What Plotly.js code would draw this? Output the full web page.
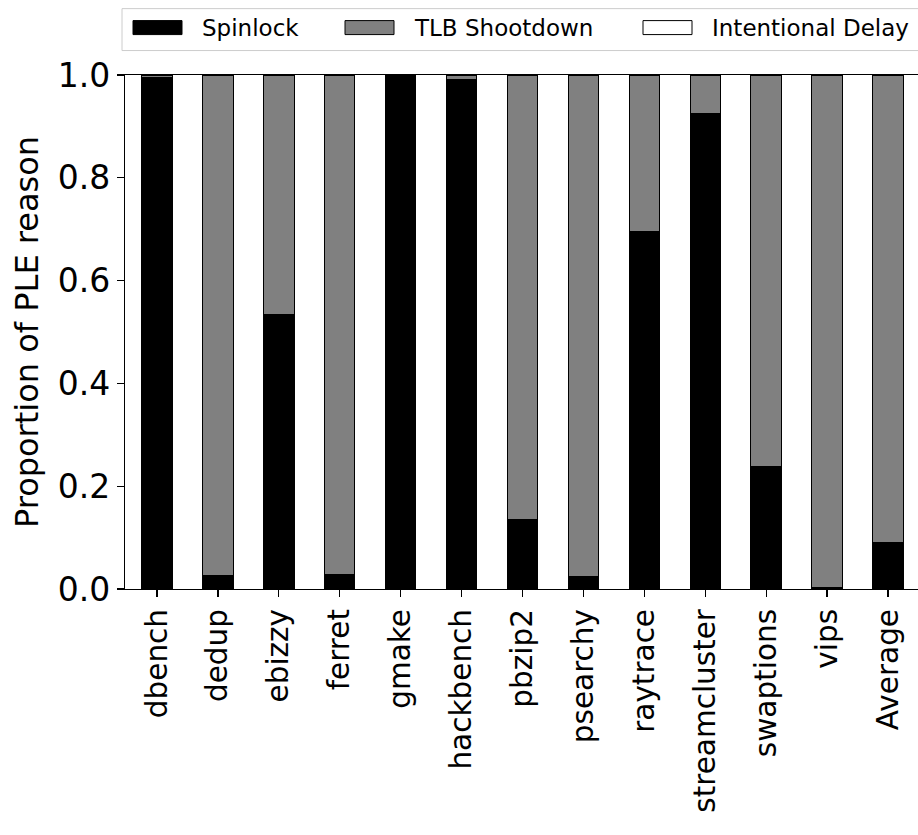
<!DOCTYPE html>
<html><head><meta charset="utf-8">
<script src="https://cdn.plot.ly/plotly-3.0.1.min.js"></script>
<style>body{margin:0;padding:0;background:#fff}</style>
</head><body>
<div id="chart" style="width:918px;height:835px"></div>
<script>
const categories = ['dbench','dedup','ebizzy','ferret','gmake','hackbench','pbzip2','psearchy','raytrace','streamcluster','swaptions','vips','Average'];
const spinlock = [0.996,0.026,0.535,0.028,1.0,0.991,0.136,0.024,0.695,0.926,0.238,0.002,0.090];
const tlbShootdown = [0.004,0.974,0.465,0.972,0.0,0.009,0.864,0.976,0.305,0.074,0.762,0.998,0.910];
const intentionalDelay = [0,0,0,0,0,0,0,0,0,0,0,0,0];
const seriesNames = ['Spinlock','TLB Shootdown','Intentional Delay'];
const seriesColors = ['#000000','#808080','#ffffff'];
const yTicks = [0,0.2,0.4,0.6,0.8,1.0];

const W = 918, H = 835;
const L = 125, R = 918, T = 74.5, B = 589.5;
const px = x => (x - L) / (R - L);
const py = y => (B - y) / (B - T);

const values = [spinlock, tlbShootdown, intentionalDelay];
const traces = values.map((v, i) => ({
  type: 'bar',
  name: seriesNames[i],
  x: categories,
  y: v,
  width: 0.5,
  marker: {color: seriesColors[i], line: {color: '#000000', width: 1}},
  showlegend: false,
  hoverinfo: 'x+y+name'
}));

const font = {family: 'DejaVu Sans, sans-serif', color: '#000000'};

// custom legend (matplotlib-style)
const legendShapes = [
  {type: 'rect', xref: 'paper', yref: 'paper', x0: px(122), x1: px(940), y0: py(8), y1: py(50),
   line: {color: '#cccccc', width: 1}, fillcolor: 'rgba(255,255,255,0.8)', layer: 'above'}
];
const patchX = [133, 345, 643];
const textX = [200, 412, 710];
const legendAnn = [];
seriesNames.forEach((n, i) => {
  legendShapes.push({type: 'rect', xref: 'paper', yref: 'paper',
    x0: px(patchX[i]), x1: px(patchX[i] + 49), y0: py(20), y1: py(34),
    line: {color: '#000000', width: 1}, fillcolor: seriesColors[i], layer: 'above'});
  legendAnn.push({xref: 'paper', yref: 'paper', x: px(textX[i]), y: py(27),
    xanchor: 'left', yanchor: 'middle', showarrow: false, text: n,
    font: Object.assign({}, font, {size: 23})});
});

const layout = {
  width: W, height: H,
  margin: {l: L, r: W - R, t: T, b: H - B, pad: 0},
  paper_bgcolor: '#ffffff', plot_bgcolor: '#ffffff',
  barmode: 'stack',
  font: Object.assign({}, font, {size: 30}),
  xaxis: {
    type: 'category',
    range: [-0.525, 12.4925],
    showline: true, linecolor: '#000000', linewidth: 1.2, mirror: true,
    ticks: 'outside', ticklen: 7, tickwidth: 1.2, tickcolor: '#000000',
    tickangle: -90, showgrid: false, zeroline: false,
    tickfont: Object.assign({}, font, {size: 29.5})
  },
  yaxis: {
    range: [0, 1],
    tickvals: yTicks, tickformat: '.1f',
    showline: true, linecolor: '#000000', linewidth: 1.2, mirror: false,
    ticks: 'outside', ticklen: 7, tickwidth: 1.2, tickcolor: '#000000',
    showgrid: false, zeroline: false,
    tickfont: Object.assign({}, font, {size: 33}),
    title: {text: 'Proportion of PLE reason', font: Object.assign({}, font, {size: 32}), standoff: 9}
  },
  shapes: legendShapes,
  annotations: legendAnn
};

Plotly.newPlot('chart', traces, layout, {displayModeBar: false, staticPlot: true});
</script>
</body></html>
